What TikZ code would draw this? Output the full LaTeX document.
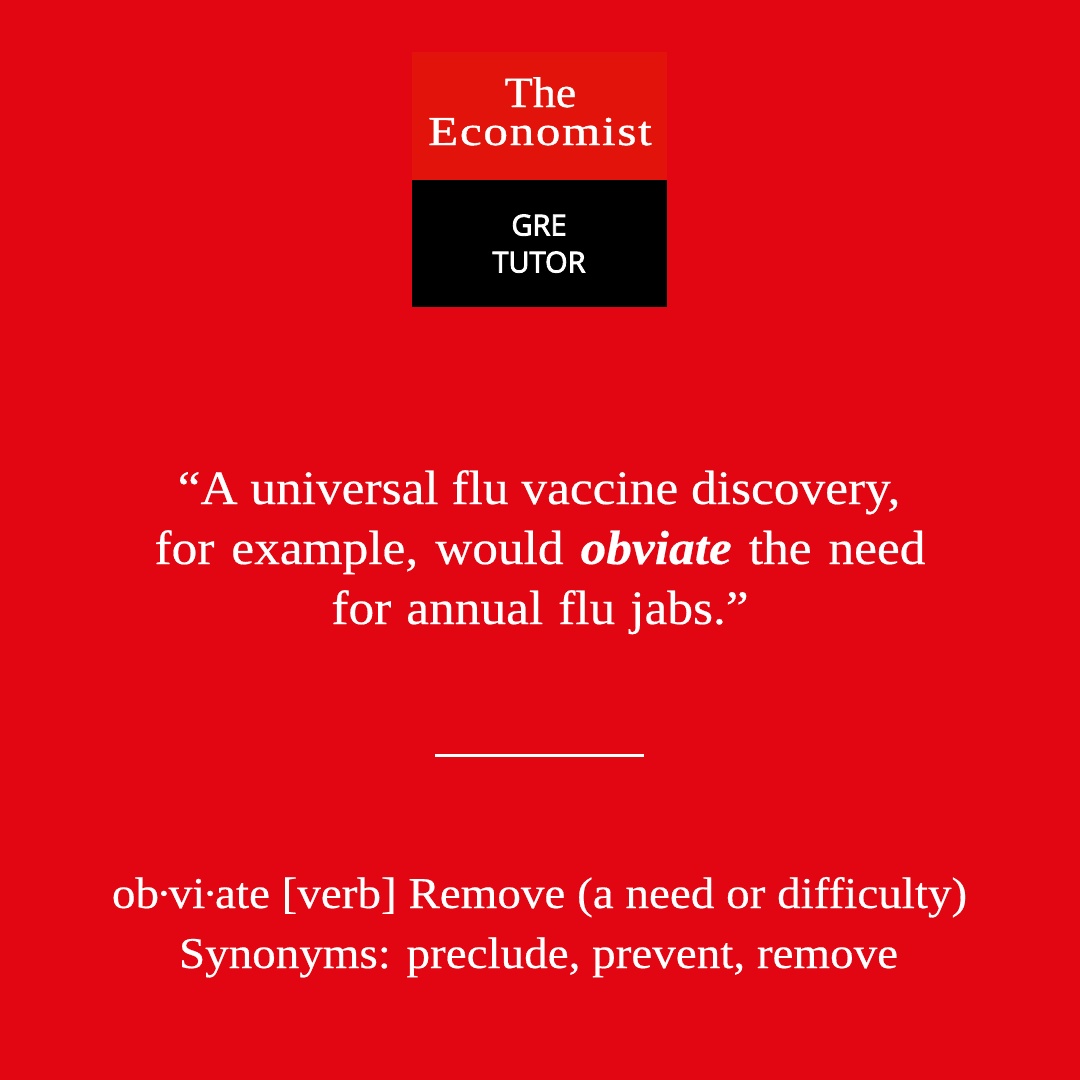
\documentclass[tikz,border=0pt]{standalone}
\usepackage{fontspec}
\setmainfont{Liberation Serif}[FakeStretch=1.07,FakeBold=0.4]
\newfontfamily\thefont{Liberation Serif}[FakeStretch=1.07,FakeBold=0.8]
\newfontfamily\ecofont{Liberation Serif}[FakeStretch=1.2,LetterSpace=4,FakeBold=1]
\newfontfamily\tutorfont{Open Sans}[FakeBold=3]
\usetikzlibrary{positioning}
\definecolor{bgred}{RGB}{226,6,18}
\definecolor{logored}{RGB}{226,19,10}
\newcommand{\sylldot}{\kern-3pt·\kern-3pt}
\tikzset{
  bigtext/.style={text=white,font=\fontsize{48}{52}\selectfont,inner sep=0pt,anchor=base},
  defntext/.style={text=white,font=\fontsize{44}{48}\selectfont,inner sep=0pt,anchor=base},
  thetext/.style={text=white,font=\thefont\fontsize{43}{46}\selectfont,inner sep=0pt,anchor=base},
  ecotext/.style={text=white,font=\ecofont\fontsize{41}{44}\selectfont,inner sep=0pt,anchor=base},
  tutortext/.style={text=white,font=\tutorfont\fontsize{29}{32}\selectfont,inner sep=0pt,anchor=base}
}
\begin{document}
\begin{tikzpicture}[x=1pt,y=-1pt]
  \fill [bgred] (0,0) rectangle (1080,1080);
  \useasboundingbox (0,0) rectangle (1080,1080);
  \fill [logored] (412,52) rectangle (667,180);
  \fill [black] (412,180) rectangle (667,307);
  \node [thetext] (the) at (540.5,107) {The};
  \node [ecotext] (economist) at (540,145) {Economist};
  \node [tutortext] (gre) at (539,235.5) {GRE};
  \node [tutortext] (tutor) at (539,272.5) {TUTOR};
  \node [bigtext] (lineone) at (539,504) {“A universal flu vaccine discovery,};
  \node [bigtext] (linetwo) at (540,564) {\spaceskip=17pt for example, would \textbf{\textit{obviate}} the need};
  \node [bigtext] (linethree) at (540,624) {\spaceskip=15pt for annual flu jabs.”};
  \coordinate (ruleleft) at (435,755);
  \coordinate (ruleright) at (644,755);
  \draw [white,line width=3pt] (ruleleft) -- (ruleright);
  \node [defntext] (defn) at (539.5,908) {ob\sylldot vi\sylldot ate [verb] Remove (a need or difficulty)};
  \node [defntext] (syn) at (538.5,968) {Synonyms: preclude, prevent, remove};
\end{tikzpicture}
\end{document}
